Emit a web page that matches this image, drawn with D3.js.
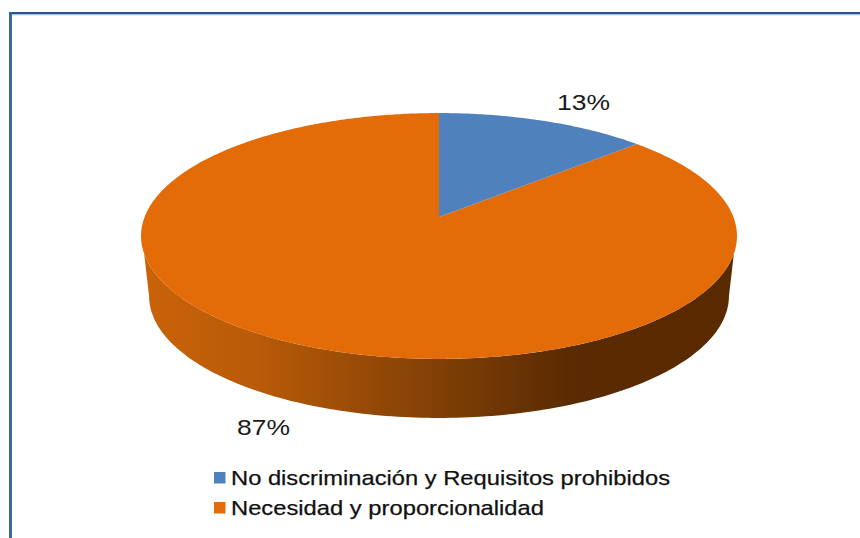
<!DOCTYPE html>
<html><head><meta charset="utf-8">
<script src="https://cdn.jsdelivr.net/npm/d3@7/dist/d3.min.js"></script>
<style>html,body{margin:0;padding:0;background:#fff}svg{display:block}</style>
</head><body><svg id="c" width="860" height="538"></svg>
<script>
const categories = ["No discriminación y Requisitos prohibidos", "Necesidad y proporcionalidad"];
const values = [13.3, 86.7];
const labels = ["13%", "87%"];
const colors = ["#4f81bd", "#e36c09"];
const sideStops = [[0,"#ca6309"],[0.2,"#b85a08"],[0.47,"#854206"],[0.72,"#5a2b02"],[1,"#592a00"]];

const svg = d3.select("#c");
const defs = svg.append("defs");
const grad = defs.append("linearGradient").attr("id","side").attr("gradientUnits","userSpaceOnUse")
  .attr("x1",141).attr("x2",737).attr("y1",0).attr("y2",0);
sideStops.forEach(s=>grad.append("stop").attr("offset",s[0]).attr("stop-color",s[1]));

// perspective mapping of the pie's unit disc on to the screen
const k=0.1545, a=294.4, b=120, ox=439, oy=217;
const proj=t=>{const u=Math.sin(t),v=Math.cos(t),w=1+k*v;return [ox+a*u/w,oy-b*v/w];};
const floorProj=t=>{const p=proj(t);return [ox+(p[0]-ox)*0.973,296+(p[1]-236)*0.992];};
const arcs=d3.pie().sort(null)(values);
const steps=d3.range(0,361).map(d=>d*Math.PI/180);
const line=d3.line();

// side wall between the top rim and the floor rim
const topRim=steps.filter(t=>proj(t)[1]>=253).map(proj);
const floorRim=steps.filter(t=>floorProj(t)[1]>=296).reverse().map(floorProj);
svg.append("path").attr("fill","url(#side)").attr("d",line(topRim.concat(floorRim))+"Z");

// slices
arcs.slice().reverse().forEach(d=>{
  const i=arcs.indexOf(d);
  const n=Math.max(2,Math.round((d.endAngle-d.startAngle)*90));
  const pts=d3.range(n+1).map(j=>proj(d.startAngle+(d.endAngle-d.startAngle)*j/n));
  svg.append("path").attr("fill",colors[i]).attr("d",line([[ox,oy],...pts])+"Z");
});

// frame
svg.append("rect").attr("x",12).attr("y",14).attr("width",848).attr("height",1.2).attr("fill","#a9bedc");
svg.append("rect").attr("x",9).attr("y",12).attr("width",851).attr("height",2).attr("fill","#27568c");
svg.append("rect").attr("x",9).attr("y",12).attr("width",3).attr("height",526).attr("fill","#3a6a9f");

// data labels
const font="'Liberation Sans',Arial,sans-serif";
svg.selectAll("text.lab").data(labels).join("text").attr("class","lab")
  .attr("x",(d,i)=>[557,237][i]).attr("y",(d,i)=>[110,435][i])
  .attr("font-family",font).attr("font-size",22).attr("fill","#1a1a1a")
  .attr("textLength",53).attr("lengthAdjust","spacingAndGlyphs").text(d=>d);

// legend
const lg=svg.selectAll("g.lg").data(categories).join("g").attr("class","lg")
  .attr("transform",(d,i)=>`translate(214,${[472,502][i]})`);
lg.append("rect").attr("width",11.5).attr("height",11.5).attr("fill",(d,i)=>colors[i]);
lg.append("text").attr("x",17).attr("y",13).attr("font-family",font).attr("font-size",21)
  .attr("fill","#111").attr("stroke","#111").attr("stroke-width",0.25)
  .attr("textLength",(d,i)=>[439,313][i]).attr("lengthAdjust","spacingAndGlyphs").text(d=>d);
</script></body></html>
